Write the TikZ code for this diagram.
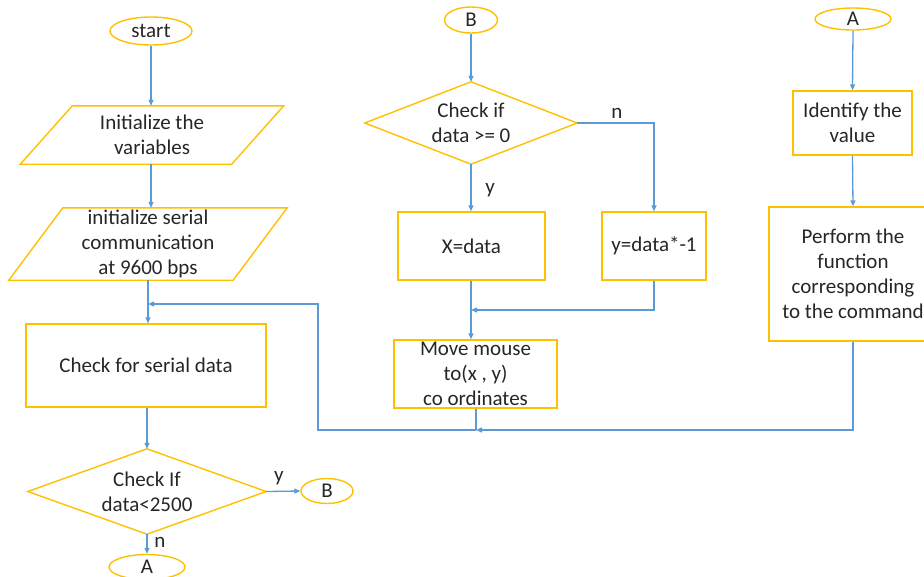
\documentclass[tikz,border=0pt]{standalone}
\usepackage{fontspec}
\setmainfont{Carlito}
\usetikzlibrary{arrows.meta,shapes.geometric,calc}
\definecolor{boxgold}{HTML}{FFC000}
\definecolor{flowblue}{HTML}{5B9BD5}
\definecolor{txt}{HTML}{262626}

\begin{document}
\begin{tikzpicture}[x=1pt,y=-1pt,
  every node/.style={font=\fontsize{21}{25}\selectfont, text=txt, align=center, inner sep=0pt},
  box/.style={draw=boxgold, line width=1.4pt, rectangle},
  term/.style={draw=boxgold, line width=1.4pt, ellipse},
  frame/.style={rectangle},
  outline/.style={draw=boxgold, line width=1.4pt, line join=miter},
  flow/.style={draw=flowblue, line width=1.3pt},
  arr/.style={flow, -{Triangle[length=6pt,width=5pt]}}
]
\useasboundingbox (0,0) rectangle (924,576);
\clip (0,0) rectangle (924,576);

% ---------- left column ----------
\node[term, minimum width=82, minimum height=28] (start) at (151,31) {start};

\node[frame, minimum width=211, minimum height=58] (p1) at (152,135) {Initialize the\\variables};
\draw[outline] ($(p1.north west)+(26,0)$) -- ($(p1.north east)+(26,0)$)
  -- ($(p1.south east)+(-26,0)$) -- ($(p1.south west)+(-26,0)$) -- cycle;

\node[frame, minimum width=224, minimum height=72] (p2) at (148,244) {initialize serial\\communication\\at 9600 bps};
\draw[outline] ($(p2.north west)+(27,0)$) -- ($(p2.north east)+(27,0)$)
  -- ($(p2.south east)+(-27,0)$) -- ($(p2.south west)+(-27,0)$) -- cycle;

\node[box, minimum width=240, minimum height=83] (serial) at (146,365.5) {Check for serial data};

\node[frame, minimum width=238, minimum height=85] (d2) at (147,491.5) {Check If\\data<2500};
\draw[outline] (d2.north) -- (d2.east) -- (d2.south) -- (d2.west) -- cycle;

\node[term, minimum width=52, minimum height=25] (bout) at (327,491) {B};
\node[term, minimum width=76, minimum height=25] (aout) at (147,567) {A};

\node (ly1) at (279,478) {y};
\node (ln1) at (160,542) {n};

% ---------- middle column ----------
\node[term, minimum width=53, minimum height=26] (bin) at (471,20) {B};

\node[frame, minimum width=212, minimum height=82] (d1) at (471,123) {Check if\\data >= 0};
\draw[outline] (d1.north) -- (d1.east) -- (d1.south) -- (d1.west) -- cycle;

\node[box, minimum width=147, minimum height=68] (xdata) at (471.5,246) {X=data};
\node[box, minimum width=104, minimum height=68] (ydata) at (654,246) {y=data*-1};
\node[box, minimum width=163, minimum height=68] (move) at (475.5,374) {Move mouse\\to(x , y)\\co ordinates};

\node (ln2) at (617,113) {n};
\node (ly2) at (490,190) {y};

% ---------- right column ----------
\node[term, minimum width=76, minimum height=22] (ain) at (853,19) {A};
\node[box, minimum width=119, minimum height=64] (ident) at (852.5,123) {Identify the\\value};
\node[box, minimum width=168, minimum height=134] (perform) at (853,274) {Perform the\\function\\corresponding\\to the command};

% ---------- connectors ----------
\draw[arr] (start.south) -- (start.south |- p1.north);
\draw[arr] (start.south |- p1.south) -- (start.south |- p2.north);
\draw[arr] (p2.south) -- (p2.south |- serial.north);
\draw[arr] (d2.north |- serial.south) -- (d2.north);
\draw[arr] (d2.east) -- (bout.west);
\draw[arr] (d2.south) -- (aout.north);

\draw[arr] (bin.south) -- (d1.north);
\draw[arr] (d1.south) -- (d1.south |- xdata.north);
\draw[arr] (d1.east) -| (ydata.north);
\draw[arr] (d1.south |- xdata.south) -- (d1.south |- move.north);

\coordinate (jx) at (471,310);
\draw[arr] (ydata.south) |- (jx);

\draw[arr] (ain.south) -- (ident.north);
\draw[arr] (ident.south) -- (perform.north);

% return path back to the serial check
\coordinate (jm) at (476,430);
\coordinate (jl) at (318,430);
\coordinate (ju) at (318,304);
\coordinate (js) at (148,304);
\draw[flow] (move.south -| jm) -- (jm);
\draw[arr] (perform.south) |- (jm);
\draw[arr] (jm) -- (jl) -- (ju) -- (js);
\end{tikzpicture}
\end{document}
